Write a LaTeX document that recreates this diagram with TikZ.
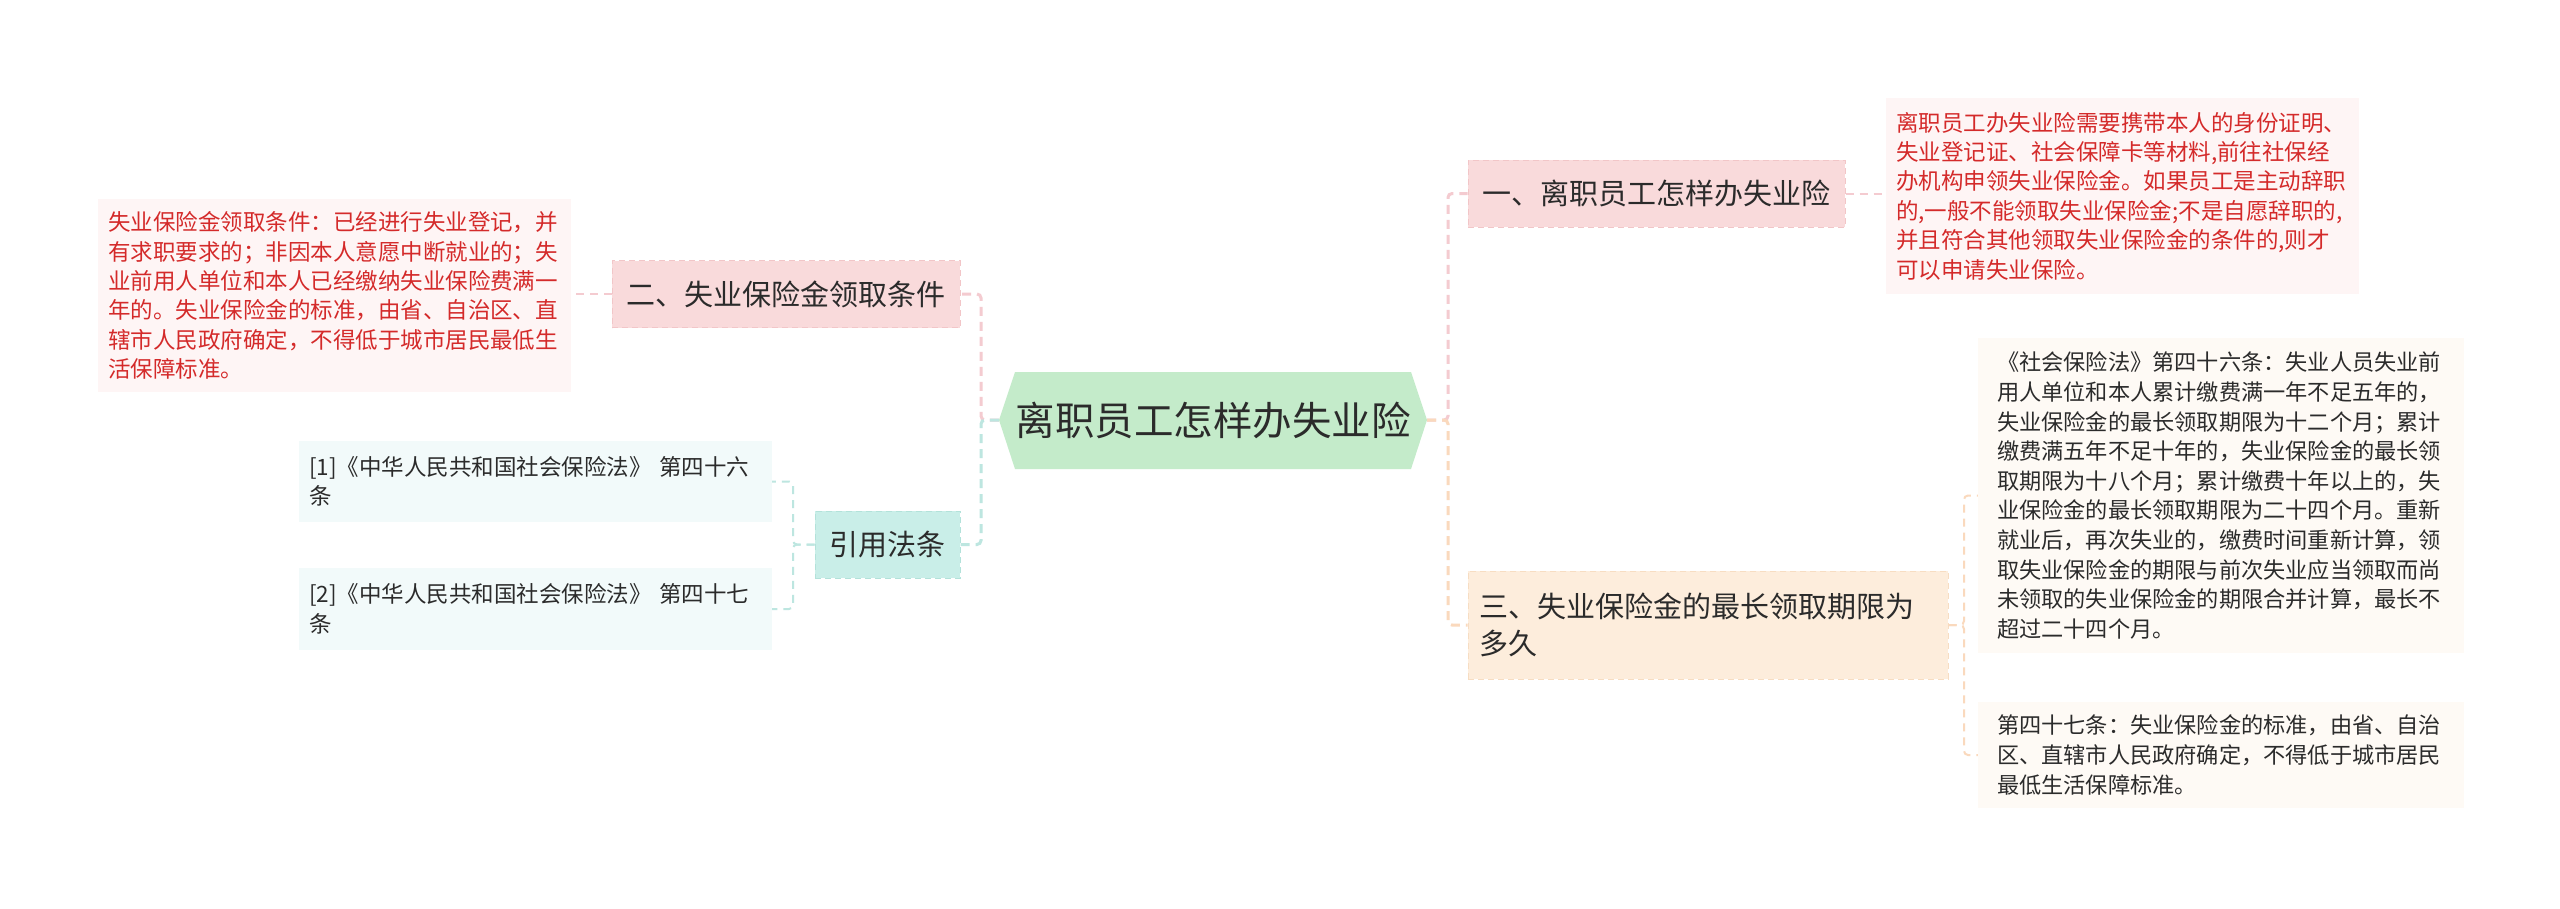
\documentclass[tikz,border=0pt]{standalone}
\usepackage{fontspec}
\setmainfont{Noto Sans CJK SC}
\usetikzlibrary{calc}
\definecolor{txt}{HTML}{2B2B2B}
\definecolor{redtxt}{HTML}{D42A2A}
\definecolor{cgreen}{HTML}{C4EBCA}
\definecolor{pinkfill}{HTML}{F9DADB}
\definecolor{pinkborder}{HTML}{F2C6C8}
\definecolor{redbg}{HTML}{FEF5F5}
\definecolor{cyanfill}{HTML}{C9EEE8}
\definecolor{cyanborder}{HTML}{B3E2DA}
\definecolor{citebg}{HTML}{F2FAFA}
\definecolor{peachfill}{HTML}{FDEDDC}
\definecolor{peachborder}{HTML}{F7DDC2}
\definecolor{lawbg}{HTML}{FEFAF5}
\definecolor{pinkline}{HTML}{F4CBD0}
\definecolor{cyanline}{HTML}{BDE6E0}
\definecolor{orangeline}{HTML}{FAD9BD}
\tikzset{
  topnode/.style={font=\fontsize{29pt}{37pt}\selectfont, text=txt, inner ysep=0pt, inner xsep=11pt, minimum height=67pt, dashed, dash pattern=on 6pt off 4pt, line width=1pt},
  leafbox/.style={font=\fontsize{22.5pt}{29.4pt}\selectfont, inner ysep=0pt, inner xsep=10pt, align=left},
  conn/.style={line width=3pt, dash pattern=on 9pt off 6pt, rounded corners=4pt},
  subconn/.style={line width=2pt, dash pattern=on 8pt off 6pt, rounded corners=4pt}
}
\begin{document}
\begin{tikzpicture}[x=1pt,y=-1pt]
\useasboundingbox[fill=white] (0,0) rectangle (2560,908);

% central hexagon
\fill[cgreen] (999,420) -- (1015,372) -- (1411,372) -- (1427,420) -- (1411,469) -- (1015,469) -- cycle;
\node[font=\fontsize{39.5pt}{48pt}\selectfont, text=txt, minimum width=428pt, minimum height=97pt, inner sep=0pt] (center) at (1213,420) {离职员工怎样办失业险};

% top level nodes
\node[topnode, fill=pinkfill, draw=pinkborder, minimum width=348pt] (two) at (786,294) {二、失业保险金领取条件};
\node[topnode, fill=cyanfill, draw=cyanborder, minimum width=145pt, inner xsep=0pt] (cite) at (887.5,544.5) {引用法条};
\node[topnode, fill=pinkfill, draw=pinkborder, minimum width=377pt] (one) at (1656.5,193.5) {一、离职员工怎样办失业险};
\node[topnode, fill=peachfill, draw=peachborder, minimum width=480pt, minimum height=108pt, text width=458pt, align=left, font=\fontsize{29pt}{37.5pt}\selectfont] (three) at (1708,625) {三、失业保险金的最长领取期限为\\多久};

% leaves
\node[leafbox, fill=redbg, text=redtxt, text width=453pt, minimum height=193pt] (redL) at (334.5,295.5) {失业保险金领取条件：已经进行失业登记，并\\有求职要求的；非因本人意愿中断就业的；失\\业前用人单位和本人已经缴纳失业保险费满一\\年的。失业保险金的标准，由省、自治区、直\\辖市人民政府确定，不得低于城市居民最低生\\活保障标准。};
\node[leafbox, fill=citebg, text=txt, text width=453pt, minimum height=81pt] (c1) at (535.5,481.5) {[1]《中华人民共和国社会保险法》 第四十六\\条};
\node[leafbox, fill=citebg, text=txt, text width=453pt, minimum height=82pt] (c2) at (535.5,609) {[2]《中华人民共和国社会保险法》 第四十七\\条};
\node[leafbox, fill=redbg, text=redtxt, text width=453pt, minimum height=196pt] (redR) at (2122.5,196) {离职员工办失业险需要携带本人的身份证明、\\失业登记证、社会保障卡等材料,前往社保经\\办机构申领失业保险金。如果员工是主动辞职\\的,一般不能领取失业保险金;不是自愿辞职的,\\并且符合其他领取失业保险金的条件的,则才\\可以申请失业保险。};
\node[leafbox, fill=lawbg, text=txt, text width=448pt, inner xsep=19pt, minimum height=315pt, font=\fontsize{22.2pt}{29.6pt}\selectfont] (law46) at (2221,495.5) {《社会保险法》第四十六条：失业人员失业前\\用人单位和本人累计缴费满一年不足五年的，\\失业保险金的最长领取期限为十二个月；累计\\缴费满五年不足十年的，失业保险金的最长领\\取期限为十八个月；累计缴费十年以上的，失\\业保险金的最长领取期限为二十四个月。重新\\就业后，再次失业的，缴费时间重新计算，领\\取失业保险金的期限与前次失业应当领取而尚\\未领取的失业保险金的期限合并计算，最长不\\超过二十四个月。};
\node[leafbox, fill=lawbg, text=txt, text width=448pt, inner xsep=19pt, minimum height=106pt, font=\fontsize{22.2pt}{29.6pt}\selectfont] (law47) at (2221,755) {第四十七条：失业保险金的标准，由省、自治\\区、直辖市人民政府确定，不得低于城市居民\\最低生活保障标准。};

% main connectors
\draw[conn, pinkline] (center.east) -- (1448,420) |- (one.west);
\draw[conn, orangeline] (center.east) -- (1448,420) |- (three.west);
\draw[conn, pinkline] (center.west) -- (981,420) |- (two.east);
\draw[conn, cyanline] (center.west) -- (981,420) |- (cite.east);

% sub connectors
\draw[subconn, pinkline] (two.west) -- (redL.east |- two.west);
\draw[subconn, pinkline] (one.east) -- (redR.west |- one.east);
\draw[subconn, cyanline] (cite.west) -- (793,544.5) |- (c1.east);
\draw[subconn, cyanline] (cite.west) -- (793,544.5) |- (c2.east);
\draw[subconn, orangeline] (three.east) -- (1964,625) |- (law46.west);
\draw[subconn, orangeline] (three.east) -- (1964,625) |- (law47.west);
\end{tikzpicture}
\end{document}
